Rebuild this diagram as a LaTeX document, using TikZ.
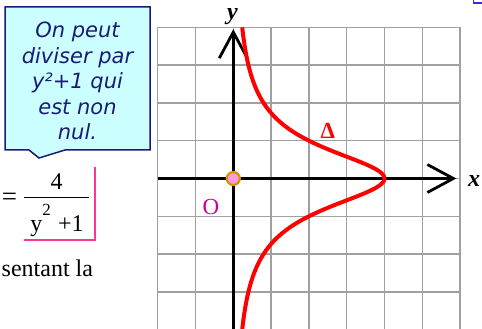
\documentclass[tikz,border=0pt]{standalone}
\usepackage{fontspec}
\setmainfont{Liberation Serif}
\newfontfamily\calloutfont{DejaVu Sans}
\usetikzlibrary{arrows.meta}

\definecolor{gridgray}{RGB}{160,160,160}
\definecolor{navytext}{RGB}{26,26,120}
\definecolor{calloutfill}{RGB}{204,255,255}
\definecolor{framepink}{RGB}{255,51,153}
\definecolor{originfill}{RGB}{255,153,221}
\definecolor{origindraw}{RGB}{204,153,0}
\definecolor{labelmagenta}{RGB}{204,0,153}
\definecolor{cornerblue}{RGB}{51,51,204}

\tikzset{
  gridline/.style={gridgray, line width=1.3pt},
  axis/.style={line width=2.8pt, -{Straight Barb[length=26pt,width=28pt]}},
  curve/.style={red, line width=4pt},
  origin/.style={circle, fill=originfill, draw=origindraw, line width=2.2pt,
    minimum size=13pt, inner sep=0pt},
  axislabel/.style={inner sep=0pt, font=\fontsize{24}{24}\selectfont\bfseries\itshape},
  calloutbox/.style={draw=navytext, fill=calloutfill, line width=1.5pt, line join=miter},
  callouttext/.style={inner sep=0pt, align=center, text=navytext,
    font=\calloutfont\itshape\fontsize{21}{25.6}\selectfont},
  fractext/.style={inner sep=0pt, font=\fontsize{24}{24}\selectfont},
  bodytext/.style={inner sep=0pt, font=\fontsize{24}{24}\selectfont}
}

\begin{document}
\begin{tikzpicture}[x=1pt, y=1pt]
    \useasboundingbox (0,0) rectangle (482,329);

    % callout with its pointer
    \draw[calloutbox] (5,322) -- (150,322) -- (150,179) -- (65,179)
        -- (39,171) -- (29,179) -- (5,179) -- cycle;
    \node[callouttext, anchor=north] (note) at (77.5,307.3)
        {On peut\\diviser par\\y²+1 qui\\est non\\nul.};

    % the fraction, framed in pink
    \node[fractext, anchor=base, font=\fontsize{27}{27}\selectfont] (eq) at (9.4,123.5) {=};
    \node[fractext, anchor=base] (num) at (56.7,139) {4};
    \node[fractext, anchor=base] (den) at (57,97.3)
        {y\raisebox{16pt}{\fontsize{17}{17}\selectfont 2}\hspace{0.3em}+1};
    \draw[line width=1.3pt] (24,131.7) -- (89.3,131.7);
    \draw[framepink, line width=2pt] (95,162.3) |- (24,89);

    \node[bodytext, anchor=base east] (sent) at (93.2,52.3) {sentant la};

    % corner of a box cut off by the page
    \draw[cornerblue, line width=1.5pt] (482,326) -| (473.5,329);

    % grid, axes and the curve x = 4/(y^2+1)
    \begin{scope}[shift={(233.3,150.5)}, x=37.8pt, y=37.8pt]
        \draw[gridline] (-2,-4) grid[step=1] (6,4);
        \coordinate (xstart) at (-2,0);
        \coordinate (xend) at (5.9,0);
        \coordinate (ystart) at (0,-4.1);
        \coordinate (yend) at (0,3.95);
        \draw[axis] (xstart) -- (xend);
        \draw[axis] (ystart) -- (yend);
        \draw[curve] plot[domain=-4.1:4, samples=120, smooth] ({4/(\x*\x+1)},\x);
        \node[origin] (O) at (0,0) {};
        \node[axislabel] (xlab) at (6.37,-0.07) {x};
        \node[axislabel] (ylab) at (-0.02,4.28) {y};
        \node[inner sep=0pt, red, font=\fontsize{23}{23}\selectfont\bfseries] (delta) at (2.5,1.26) {Δ};
        \node[inner sep=0pt, labelmagenta, font=\fontsize{23}{23}\selectfont] (olab) at (-0.59,-0.75) {O};
    \end{scope}
\end{tikzpicture}
\end{document}
